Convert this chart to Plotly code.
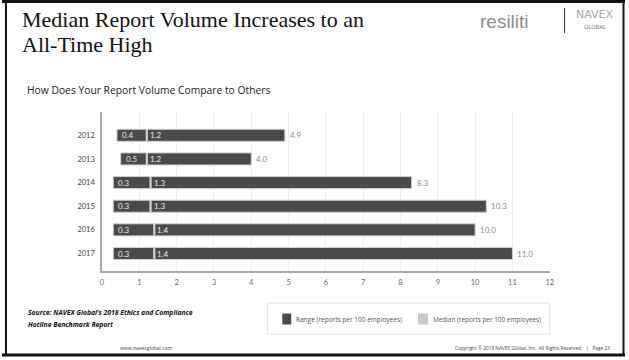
import plotly.graph_objects as go

years = ["2012", "2013", "2014", "2015", "2016", "2017"]
range_min = [0.4, 0.5, 0.3, 0.3, 0.3, 0.3]
median = [1.2, 1.2, 1.3, 1.3, 1.4, 1.4]
range_max = [4.9, 4.0, 8.3, 10.3, 10.0, 11.0]
x_ticks = list(range(0, 13))

W, H = 629, 360
DARK = "#4a4a4a"
EDGE = "#d0d0d0"
MED = "#cfcfcf"
NUMFONT = "Lato"

fig = go.Figure()

# Range bars
fig.add_trace(go.Bar(
    y=years, x=[mx - mn for mn, mx in zip(range_min, range_max)], base=range_min,
    orientation="h", width=0.51, marker=dict(color=DARK, line=dict(color=EDGE, width=1)),
    name="Range (reports per 100 employees)", showlegend=False, hoverinfo="skip",
))
# Median divider
d = 0.03
fig.add_trace(go.Bar(
    y=years, x=[2 * d] * len(years), base=[m - d for m in median],
    orientation="h", width=0.51, marker=dict(color=MED, line=dict(width=0)),
    name="Median (reports per 100 employees)", showlegend=False, hoverinfo="skip",
))

ann = []
for i, (mn, md, mx) in enumerate(zip(range_min, median, range_max)):
    ann.append(dict(x=mn, y=i, xref="x", yref="y", text=f"{mn:.1f}", showarrow=False,
                    xanchor="left", xshift=3, font=dict(family=NUMFONT, size=8, color="#e8e8e8")))
    ann.append(dict(x=md, y=i, xref="x", yref="y", text=f"{md:.1f}", showarrow=False,
                    xanchor="left", xshift=1, font=dict(family=NUMFONT, size=8, color="#e8e8e8")))
    ann.append(dict(x=mx, y=i, xref="x", yref="y", text=f"{mx:.1f}", showarrow=False,
                    xanchor="left", xshift=3, font=dict(family=NUMFONT, size=8, color="#8a8a8a")))

def px(x):
    return x / W

def py(y):
    return 1 - y / H

SERIF = "Liberation Serif"
# Header
ann.append(dict(x=px(18), y=py(19), xref="paper", yref="paper", text="Median Report Volume Increases to an",
                showarrow=False, xanchor="left", yanchor="middle",
                font=dict(family=SERIF, size=22, color="#111")))
ann.append(dict(x=px(18), y=py(44), xref="paper", yref="paper", text="All-Time High",
                showarrow=False, xanchor="left", yanchor="middle",
                font=dict(family=SERIF, size=22, color="#111")))
ann.append(dict(x=px(23), y=py(90), xref="paper", yref="paper",
                text="How Does Your Report Volume Compare to Others",
                showarrow=False, xanchor="left", yanchor="middle",
                font=dict(family="Open Sans", size=10.3, color="#222")))
# Logos
ann.append(dict(x=px(534), y=py(21), xref="paper", yref="paper", text="resiliti",
                showarrow=False, xanchor="right", yanchor="middle",
                font=dict(family="Liberation Sans", size=19, color="#8c8c8c")))
ann.append(dict(x=px(599), y=py(15), xref="paper", yref="paper", text="NAVEX",
                showarrow=False, xanchor="center", yanchor="middle",
                font=dict(family="DejaVu Sans", size=11, color="#a8a8a8")))
ann.append(dict(x=px(599), y=py(27), xref="paper", yref="paper", text="GLOBAL",
                showarrow=False, xanchor="center", yanchor="middle",
                font=dict(family="DejaVu Sans", size=5.5, color="#777")))

# Source
ann.append(dict(x=px(24), y=py(312), xref="paper", yref="paper",
                text="<b><i>Source: NAVEX Global\u2019s 2018 Ethics and Compliance</i></b>",
                showarrow=False, xanchor="left", yanchor="middle",
                font=dict(family="Open Sans", size=6.8, color="#111")))
ann.append(dict(x=px(24), y=py(324), xref="paper", yref="paper",
                text="<b><i>Hotline Benchmark Report</i></b>",
                showarrow=False, xanchor="left", yanchor="middle",
                font=dict(family="Open Sans", size=6.8, color="#111")))

# Legend (manual)
ann.append(dict(x=px(295), y=py(319), xref="paper", yref="paper",
                text="Range (reports per 100 employees)",
                showarrow=False, xanchor="left", yanchor="middle",
                font=dict(family="Open Sans", size=6.5, color="#555")))
ann.append(dict(x=px(433), y=py(319), xref="paper", yref="paper",
                text="Median (reports per 100 employees)",
                showarrow=False, xanchor="left", yanchor="middle",
                font=dict(family="Open Sans", size=6.4, color="#555")))

# Footer
ann.append(dict(x=px(146), y=py(348), xref="paper", yref="paper", text="www.navexglobal.com",
                showarrow=False, xanchor="center", yanchor="middle",
                font=dict(family="Open Sans", size=5, color="#444")))
ann.append(dict(x=px(616), y=py(348), xref="paper", yref="paper",
                text="Copyright \u00a9 2018 NAVEX Global, Inc.  All Rights Reserved.   |   Page 23",
                showarrow=False, xanchor="right", yanchor="middle",
                font=dict(family="Open Sans", size=4.8, color="#444")))

shapes = [
    # slide border
    dict(type="line", xref="paper", yref="paper", x0=0, x1=1, y0=py(1.5), y1=py(1.5),
         line=dict(color="#111", width=3)),
    dict(type="line", xref="paper", yref="paper", x0=px(4), x1=px(4), y0=py(0), y1=py(356),
         line=dict(color="#111", width=2)),
    dict(type="line", xref="paper", yref="paper", x0=px(627.5), x1=px(627.5), y0=py(0), y1=py(356),
         line=dict(color="#111", width=2)),
    dict(type="line", xref="paper", yref="paper", x0=0, x1=1, y0=py(355), y1=py(355),
         line=dict(color="#111", width=3)),
    # logo separator
    dict(type="line", xref="paper", yref="paper", x0=px(568), x1=px(568), y0=py(8), y1=py(33),
         line=dict(color="#333", width=1)),
    # legend box
    dict(type="rect", xref="paper", yref="paper", x0=px(268), x1=px(553), y0=py(303), y1=py(334),
         line=dict(color="#e2e2e2", width=1), fillcolor="rgba(0,0,0,0)"),
    dict(type="rect", xref="paper", yref="paper", x0=px(283), x1=px(292), y0=py(313.5), y1=py(324.5),
         line=dict(width=0), fillcolor=DARK),
    dict(type="rect", xref="paper", yref="paper", x0=px(420), x1=px(430), y0=py(313.5), y1=py(324.5),
         line=dict(width=0), fillcolor="#c8c8c8"),
]

fig.update_layout(
    width=W, height=H, margin=dict(l=0, r=0, t=0, b=0),
    paper_bgcolor="white", plot_bgcolor="white",
    barmode="overlay", showlegend=False,
    annotations=ann, shapes=shapes,
    xaxis=dict(domain=[px(101), px(553)], range=[0, 12], tickvals=x_ticks,
               ticktext=[str(t) for t in x_ticks], showgrid=True, gridcolor="#efefef", gridwidth=1,
               zeroline=False, showline=True, linecolor="#a8a8a8", linewidth=1.5,
               ticks="", ticklabelstandoff=3,
               tickfont=dict(family=NUMFONT, size=7.5, color="#666"), fixedrange=True),
    yaxis=dict(domain=[py(271), py(112)], type="category", categoryorder="array",
               categoryarray=years, range=[5.74, -0.985], showgrid=False, zeroline=False,
               showline=True, linecolor="#a8a8a8", linewidth=1.5, ticks="", ticklabelstandoff=4,
               tickfont=dict(family=NUMFONT, size=7.5, color="#444"), fixedrange=True),
)

fig.write_html("out.html")
